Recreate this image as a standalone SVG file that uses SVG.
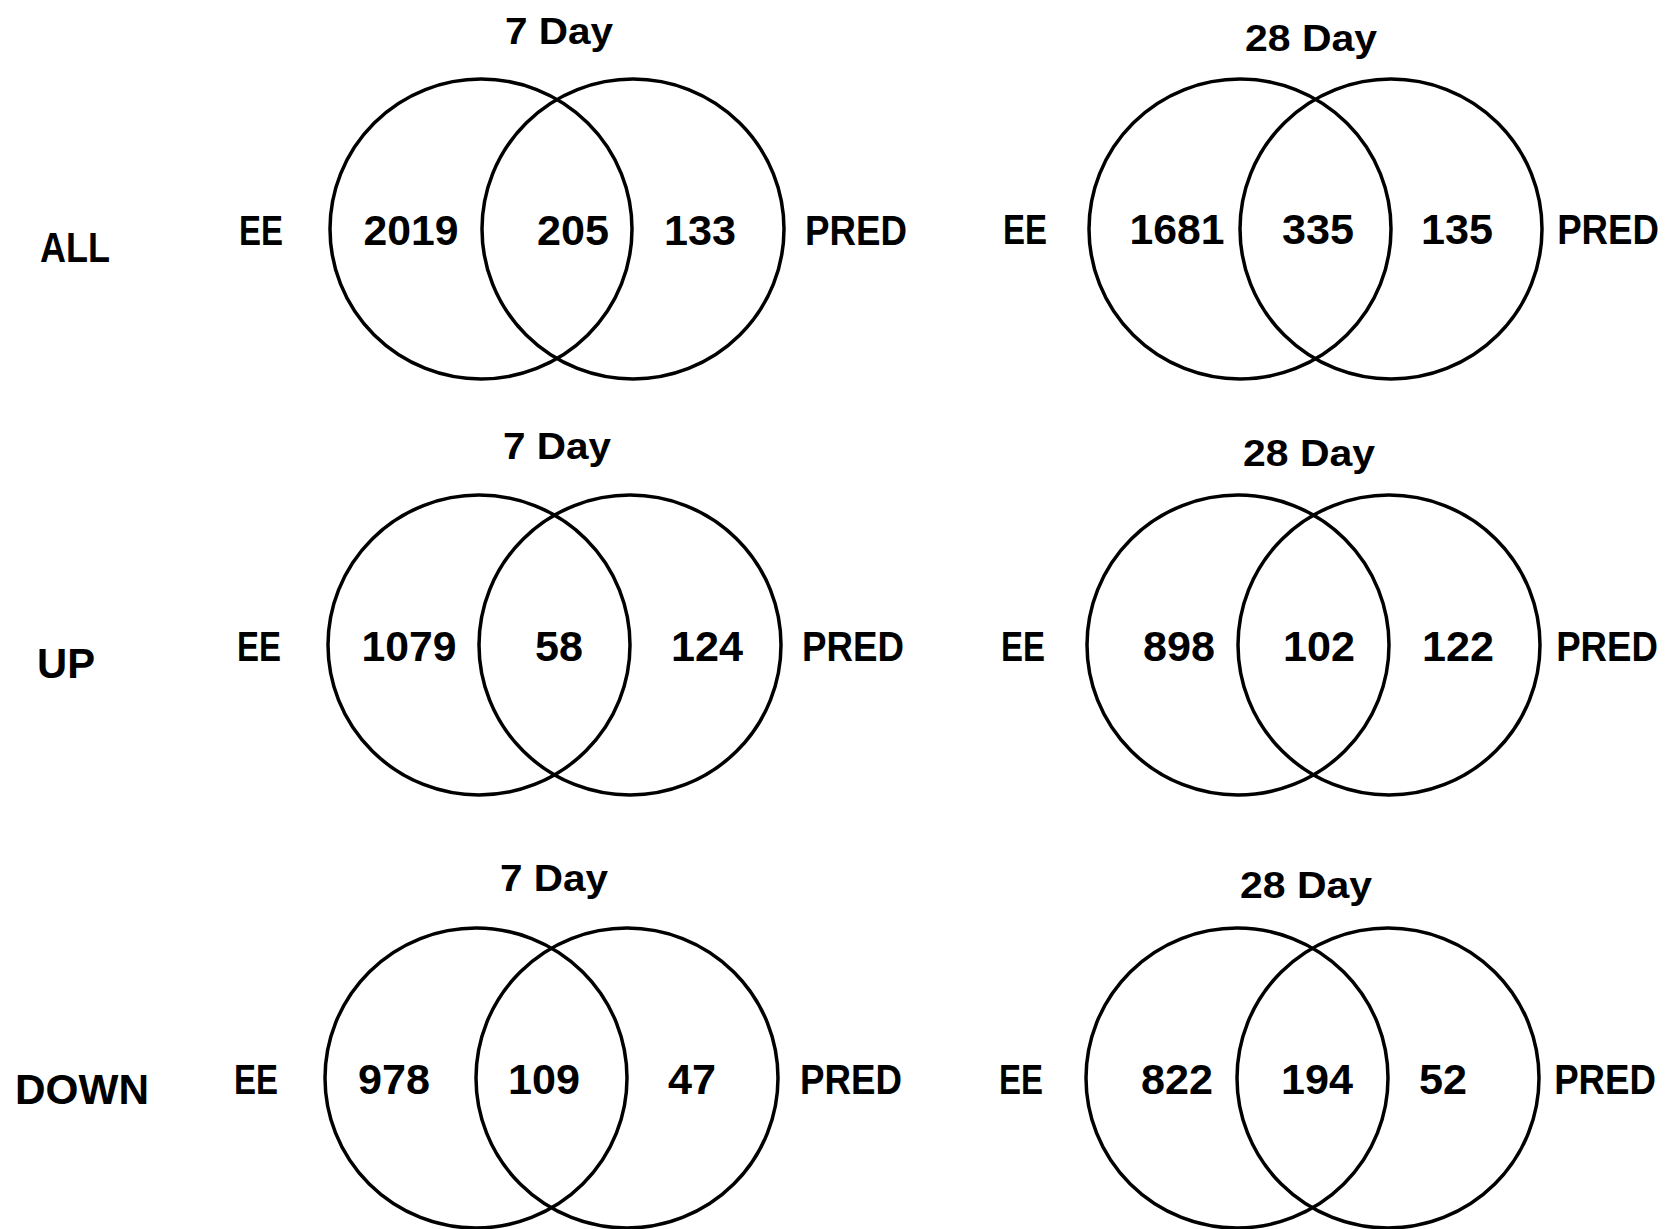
<svg xmlns="http://www.w3.org/2000/svg" width="1669" height="1229" viewBox="0 0 1669 1229">
<style>
.c{fill:none;stroke:#000;stroke-width:3.5}
text{font-family:"Liberation Sans",Arial,sans-serif;font-weight:bold;font-size:42px;fill:#000;text-anchor:middle}
.t{font-size:37px}
</style>
<rect width="1669" height="1229" fill="#fff"/>
<g id="row-labels">
<text x="75" y="262" textLength="70" lengthAdjust="spacingAndGlyphs">ALL</text>
<text x="66" y="678" textLength="58" lengthAdjust="spacingAndGlyphs">UP</text>
<text x="82" y="1104" textLength="134" lengthAdjust="spacingAndGlyphs">DOWN</text>
</g>
<g id="venn-all-7">
<text class="t" x="559" y="44" textLength="108" lengthAdjust="spacingAndGlyphs">7 Day</text>
<ellipse class="c" cx="481" cy="229" rx="151" ry="150"/>
<ellipse class="c" cx="633" cy="229" rx="151" ry="150"/>
<text x="261" y="245" textLength="44" lengthAdjust="spacingAndGlyphs">EE</text>
<text x="411" y="245" textLength="95" lengthAdjust="spacingAndGlyphs">2019</text>
<text x="573" y="245" textLength="72" lengthAdjust="spacingAndGlyphs">205</text>
<text x="700" y="245" textLength="72" lengthAdjust="spacingAndGlyphs">133</text>
<text x="856" y="245" textLength="102" lengthAdjust="spacingAndGlyphs">PRED</text>
</g>
<g id="venn-all-28">
<text class="t" x="1311" y="51" textLength="132" lengthAdjust="spacingAndGlyphs">28 Day</text>
<ellipse class="c" cx="1240" cy="229" rx="151" ry="150"/>
<ellipse class="c" cx="1391" cy="229" rx="151" ry="150"/>
<text x="1025" y="244" textLength="44" lengthAdjust="spacingAndGlyphs">EE</text>
<text x="1177" y="244" textLength="95" lengthAdjust="spacingAndGlyphs">1681</text>
<text x="1318" y="244" textLength="72" lengthAdjust="spacingAndGlyphs">335</text>
<text x="1457" y="244" textLength="72" lengthAdjust="spacingAndGlyphs">135</text>
<text transform="translate(1608 244) scale(0.872 1)">PRED</text>
</g>
<g id="venn-up-7">
<text class="t" x="557" y="459" textLength="108" lengthAdjust="spacingAndGlyphs">7 Day</text>
<ellipse class="c" cx="479" cy="645" rx="151" ry="150"/>
<ellipse class="c" cx="630" cy="645" rx="151" ry="150"/>
<text x="259" y="661" textLength="44" lengthAdjust="spacingAndGlyphs">EE</text>
<text x="409" y="661" textLength="95" lengthAdjust="spacingAndGlyphs">1079</text>
<text x="559" y="661" textLength="48" lengthAdjust="spacingAndGlyphs">58</text>
<text x="707" y="661" textLength="72" lengthAdjust="spacingAndGlyphs">124</text>
<text x="853" y="661" textLength="102" lengthAdjust="spacingAndGlyphs">PRED</text>
</g>
<g id="venn-up-28">
<text class="t" x="1309" y="466" textLength="132" lengthAdjust="spacingAndGlyphs">28 Day</text>
<ellipse class="c" cx="1238" cy="645" rx="151" ry="150"/>
<ellipse class="c" cx="1389" cy="645" rx="151" ry="150"/>
<text x="1023" y="661" textLength="44" lengthAdjust="spacingAndGlyphs">EE</text>
<text x="1179" y="661" textLength="72" lengthAdjust="spacingAndGlyphs">898</text>
<text x="1319" y="661" textLength="72" lengthAdjust="spacingAndGlyphs">102</text>
<text x="1458" y="661" textLength="72" lengthAdjust="spacingAndGlyphs">122</text>
<text transform="translate(1607 661) scale(0.872 1)">PRED</text>
</g>
<g id="venn-down-7">
<text class="t" x="554" y="891" textLength="108" lengthAdjust="spacingAndGlyphs">7 Day</text>
<ellipse class="c" cx="476" cy="1078" rx="151" ry="150"/>
<ellipse class="c" cx="627" cy="1078" rx="151" ry="150"/>
<text x="256" y="1094" textLength="44" lengthAdjust="spacingAndGlyphs">EE</text>
<text x="394" y="1094" textLength="72" lengthAdjust="spacingAndGlyphs">978</text>
<text x="544" y="1094" textLength="72" lengthAdjust="spacingAndGlyphs">109</text>
<text x="692" y="1094" textLength="48" lengthAdjust="spacingAndGlyphs">47</text>
<text x="851" y="1094" textLength="102" lengthAdjust="spacingAndGlyphs">PRED</text>
</g>
<g id="venn-down-28">
<text class="t" x="1306" y="898" textLength="132" lengthAdjust="spacingAndGlyphs">28 Day</text>
<ellipse class="c" cx="1237" cy="1078" rx="151" ry="150"/>
<ellipse class="c" cx="1388" cy="1078" rx="151" ry="150"/>
<text x="1021" y="1094" textLength="44" lengthAdjust="spacingAndGlyphs">EE</text>
<text x="1177" y="1094" textLength="72" lengthAdjust="spacingAndGlyphs">822</text>
<text x="1317" y="1094" textLength="72" lengthAdjust="spacingAndGlyphs">194</text>
<text x="1443" y="1094" textLength="48" lengthAdjust="spacingAndGlyphs">52</text>
<text transform="translate(1605 1094) scale(0.872 1)">PRED</text>
</g>
<g id="connectors"/>
</svg>
